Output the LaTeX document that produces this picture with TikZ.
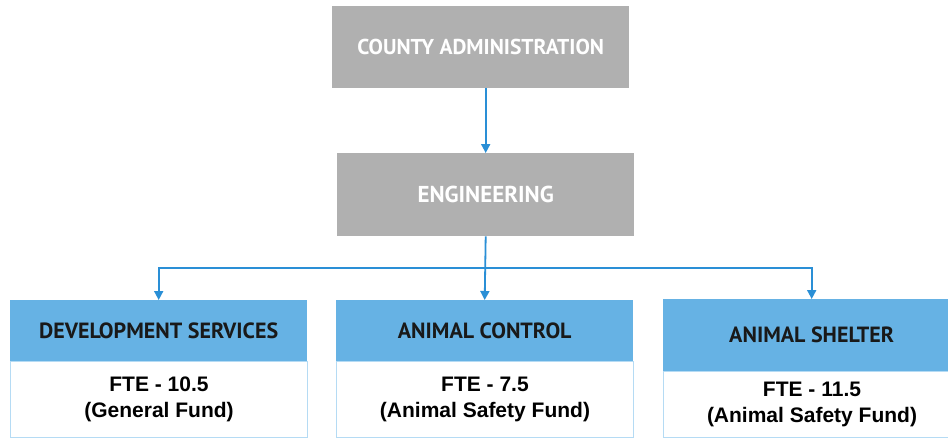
\documentclass[tikz,border=0pt]{standalone}
\usepackage{fontspec}
\setmainfont{Liberation Sans}
\newfontfamily\hdfont{PT Sans Bold}
\usetikzlibrary{arrows.meta}
\definecolor{boxgray}{HTML}{B0B0B0}
\definecolor{hdblue}{HTML}{66B2E4}
\definecolor{lnblue}{HTML}{2A8FD6}
\definecolor{bdblue}{HTML}{B5DBF4}
\tikzset{
  graybox/.style={fill=boxgray, draw=none, minimum width=297pt, inner sep=0pt, anchor=north west,
    text=white, font=\hdfont\fontsize{21.5}{24}\selectfont},
  hdbox/.style={fill=hdblue, draw=none, minimum width=297pt, inner sep=0pt, anchor=north west,
    text=black!90, font=\hdfont\fontsize{22}{24}\selectfont},
  bodybox/.style={fill=white, draw=bdblue, line width=1pt, minimum width=297pt, inner sep=0pt, anchor=north west,
    align=center, text=black, font=\bfseries\fontsize{21}{26}\selectfont},
  conn/.style={draw=lnblue, line width=1.8pt},
  arr/.style={conn, -{Triangle[length=9pt,width=9pt]}}
}
\begin{document}
\begin{tikzpicture}[x=1pt,y=-1pt]
\useasboundingbox (0,0) rectangle (948,437);
\clip (0,0) rectangle (948,437);
\fill[white] (0,0) rectangle (948,437);
\node[graybox, minimum height=82pt] (county) at (332,6) {COUNTY ADMINISTRATION};
\node[graybox, minimum height=83pt, font=\hdfont\fontsize{23}{24}\selectfont] (eng) at (337,153) {ENGINEERING};
\node[hdbox, minimum height=61pt] (devh) at (10,300) {DEVELOPMENT SERVICES};
\node[bodybox, minimum height=76pt] (devb) at (10,361) {FTE - 10.5\\(General Fund)};
\node[hdbox, minimum height=61pt] (ctlh) at (336,300) {ANIMAL CONTROL};
\node[bodybox, minimum height=76pt] (ctlb) at (336,361) {FTE - 7.5\\(Animal Safety Fund)};
\node[hdbox, minimum height=72pt] (shlh) at (663,299) {ANIMAL SHELTER};
\node[bodybox, minimum height=66pt] (shlb) at (663,371) {FTE - 11.5\\(Animal Safety Fund)};
\coordinate (bus) at (485,268);
\draw[arr] (county.south -| eng.north) -- (eng.north);
\draw[arr] (eng.south) -- (ctlh.north);
\draw[arr] (bus) -| (devh.north);
\draw[arr] (bus) -| (shlh.north);
\end{tikzpicture}
\end{document}
